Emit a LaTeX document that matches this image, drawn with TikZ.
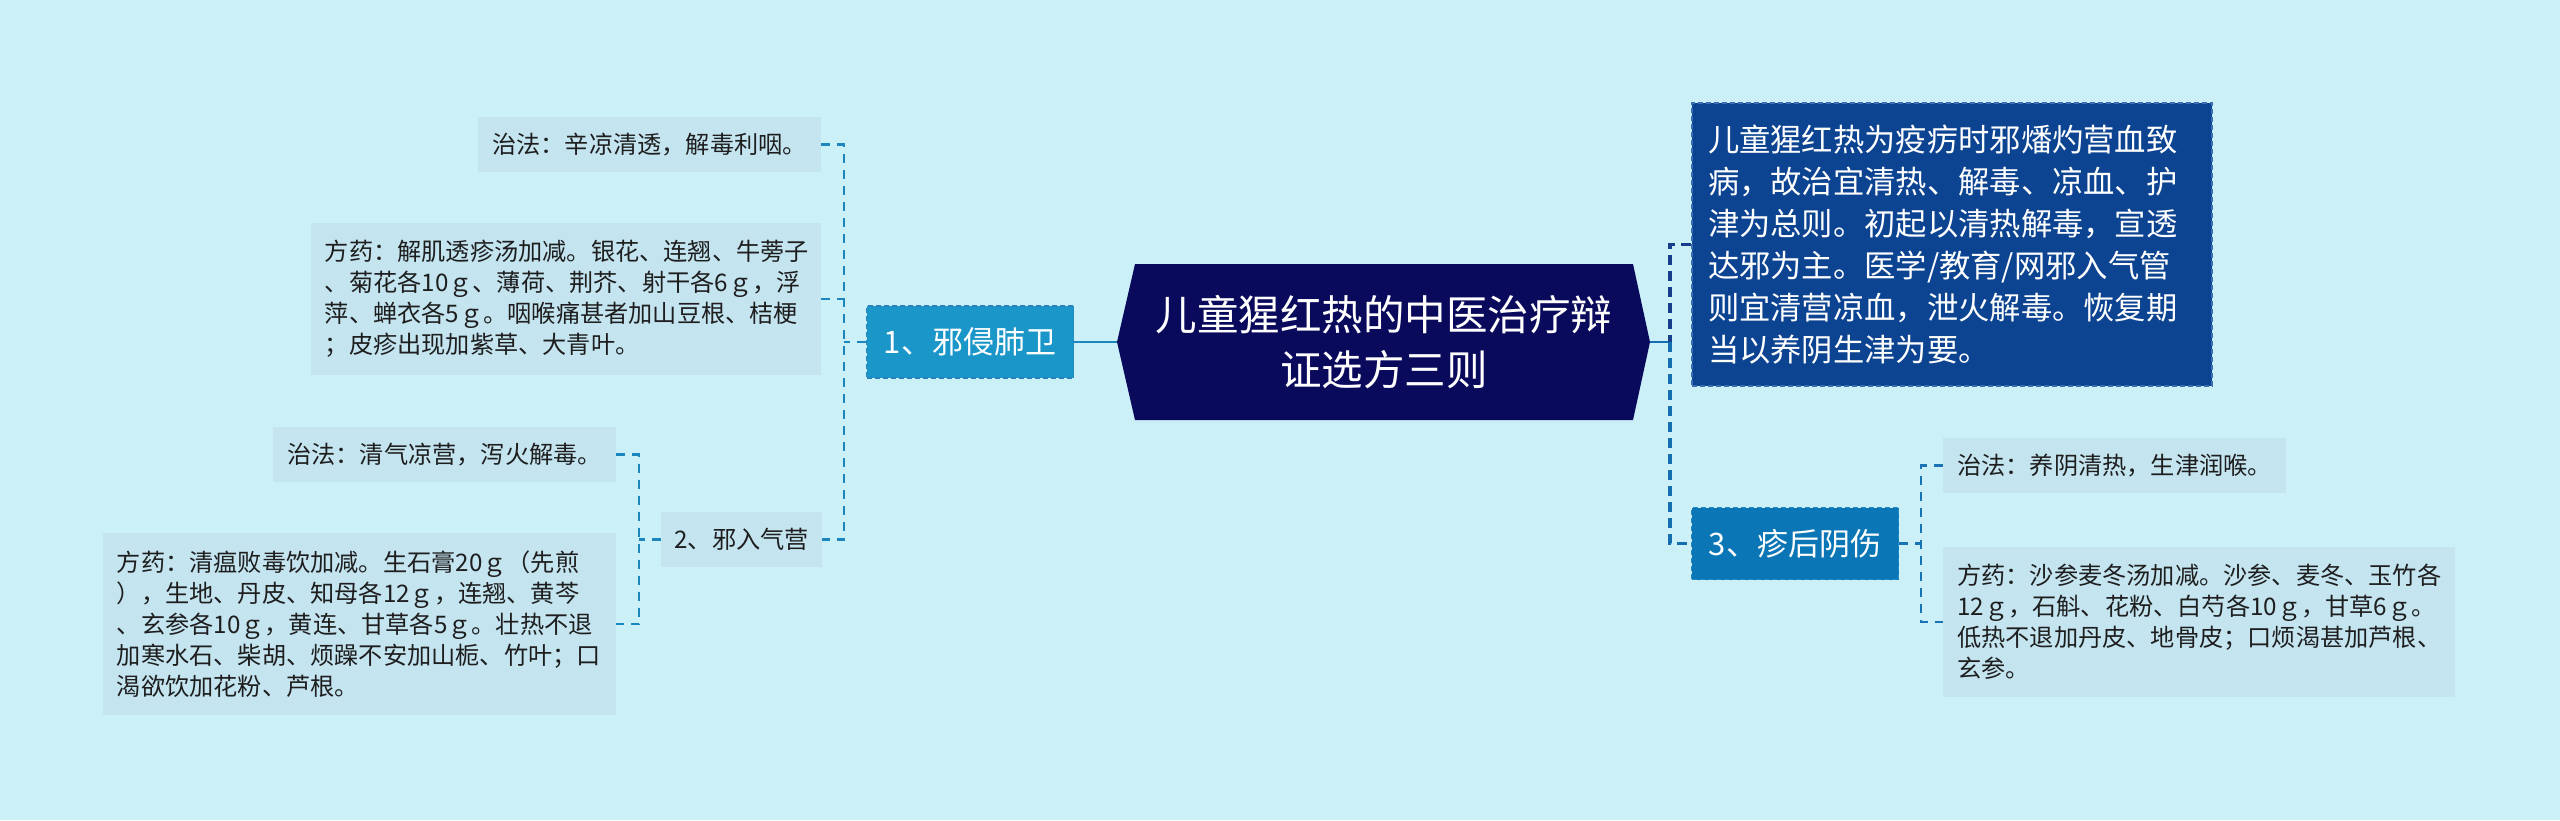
\documentclass[tikz,border=0pt]{standalone}
\usepackage{fontspec}
\setmainfont{Noto Sans CJK SC}
\definecolor{bg}{RGB}{204,240,248}
\definecolor{leaf}{RGB}{196,228,240}
\definecolor{leaftext}{RGB}{30,30,30}
\definecolor{navy}{RGB}{10,10,92}
\definecolor{rbox}{RGB}{12,68,146}
\definecolor{rboxline}{RGB}{60,110,180}
\definecolor{cat1}{RGB}{26,150,200}
\definecolor{cat1line}{RGB}{40,130,190}
\definecolor{cat3}{RGB}{10,118,182}
\definecolor{cat3line}{RGB}{40,140,200}
\definecolor{linkL}{RGB}{28,135,190}
\definecolor{linkM}{RGB}{25,115,180}
\definecolor{linkR}{RGB}{22,62,140}
\definecolor{linkR3}{RGB}{20,110,175}
\begin{document}
\begin{tikzpicture}[x=1pt,y=-1pt,
  leafbox/.style={rectangle, fill=leaf, text=leaftext, inner xsep=14pt, inner ysep=0pt,
    minimum height=55pt, align=left, font=\fontsize{24.2pt}{31pt}\selectfont},
  catbox/.style={rectangle, text=white, inner sep=0pt, minimum width=207pt,
    minimum height=72pt, line width=1.5pt, dash pattern=on 5pt off 3pt,
    font=\fontsize{31pt}{38pt}\selectfont},
  linkS/.style={draw=linkL, line width=2.8pt},
  linkSR/.style={draw=linkR3, line width=2.8pt},
  linkL/.style={draw=linkL, line width=2.8pt, dash pattern=on 9pt off 7pt},
  linkM/.style={draw=linkM, line width=2.8pt, dash pattern=on 9pt off 7pt},
  linkR/.style={draw=linkR, line width=3.3pt, dash pattern=on 10pt off 6pt},
  linkRb/.style={draw=linkR3, line width=3.3pt, dash pattern=on 10pt off 6pt}]
\fill[bg] (0,0) rectangle (2560,820);
\useasboundingbox (0,0) rectangle (2560,820);

% central topic
\fill[navy] (1135,264) -- (1633,264) -- (1650,342) -- (1633,420) -- (1135,420) -- (1117,342) -- cycle;
\node[text=white, align=center, inner sep=0pt, minimum width=498pt, minimum height=156pt,
  font=\fontsize{41.5pt}{55pt}\selectfont] (c) at (1384,342)
  {儿童猩红热的中医治疗辩\\证选方三则};
\coordinate (cL) at (1117,342);
\coordinate (cR) at (1650,342);

% right top description
\node[rectangle, fill=rbox, draw=rboxline, line width=1.5pt, dash pattern=on 5pt off 3pt,
  text=white, align=left, text width=488pt, inner xsep=16pt, inner ysep=0pt,
  minimum height=283pt, font=\fontsize{31.3pt}{42pt}\selectfont] (rt) at (1952,244.5)
  {儿童猩红热为疫疠时邪燔灼营血致\\病，故治宜清热、解毒、凉血、护\\津为总则。初起以清热解毒，宣透\\达邪为主。医学/教育/网邪入气管\\则宜清营凉血，泄火解毒。恢复期\\当以养阴生津为要。};

% branch 1
\node[catbox, fill=cat1, draw=cat1line] (b1) at (970,342) {1、邪侵肺卫};
\node[leafbox, anchor=east] (t1) at (821,144.5) {治法：辛凉清透，解毒利咽。};
\node[leafbox, anchor=east, text width=482pt, inner xsep=14pt, minimum height=152pt] (f1) at (821,299)
  {方药：解肌透疹汤加减。银花、连翘、牛蒡子\\、菊花各10ｇ、薄荷、荆芥、射干各6ｇ，浮\\萍、蝉衣各5ｇ。咽喉痛甚者加山豆根、桔梗\\；皮疹出现加紫草、大青叶。};
\node[leafbox, anchor=east, inner xsep=13pt] (b2) at (822,539.5) {2、邪入气营};
\node[leafbox, anchor=east] (t2) at (616,454.5) {治法：清气凉营，泻火解毒。};
\node[leafbox, anchor=east, text width=485pt, inner xsep=14pt, minimum height=182pt] (f2) at (616,624)
  {方药：清瘟败毒饮加减。生石膏20ｇ（先煎\\），生地、丹皮、知母各12ｇ，连翘、黄芩\\、玄参各10ｇ，黄连、甘草各5ｇ。壮热不退\\加寒水石、柴胡、烦躁不安加山栀、竹叶；口\\渴欲饮加花粉、芦根。};

% branch 3
\node[catbox, fill=cat3, draw=cat3line] (b3) at (1795,543.5) {3、疹后阴伤};
\node[leafbox, anchor=west] (t3) at (1943,465.5) {治法：养阴清热，生津润喉。};
\node[leafbox, anchor=west, text width=484pt, inner xsep=14pt, minimum height=150pt] (f3) at (1943,622)
  {方药：沙参麦冬汤加减。沙参、麦冬、玉竹各\\12ｇ，石斛、花粉、白芍各10ｇ，甘草6ｇ。\\低热不退加丹皮、地骨皮；口烦渴甚加芦根、\\玄参。};

% junctions
\coordinate (j1) at (844,342);
\coordinate (j2) at (639,539.5);
\coordinate (jR) at (1670,342);
\coordinate (j3) at (1921,543.5);

% connectors left
\draw[linkS] (cL) -- (b1.east);
\draw[linkL] (b1.west) -- (j1);
\draw[linkL] (t1.east) -- (t1.east -| j1) -- (b2.east -| j1) -- (b2.east);
\draw[linkL] (f1.east) -- (f1.east -| j1);
\draw[linkL] (b2.west) -- (j2);
\draw[linkL] (t2.east) -- (t2.east -| j2) -- (f2.east -| j2) -- (f2.east);

% connectors right
\draw[linkSR] (cR) -- (jR);
\draw[linkR] (rt.west) -- (rt.west -| jR) -- (jR);
\draw[linkRb] (jR) -- (b3.west -| jR) -- (b3.west);
\draw[linkM] (b3.east) -- (j3);
\draw[linkM] (t3.west) -- (t3.west -| j3) -- (f3.west -| j3) -- (f3.west);
\end{tikzpicture}
\end{document}
